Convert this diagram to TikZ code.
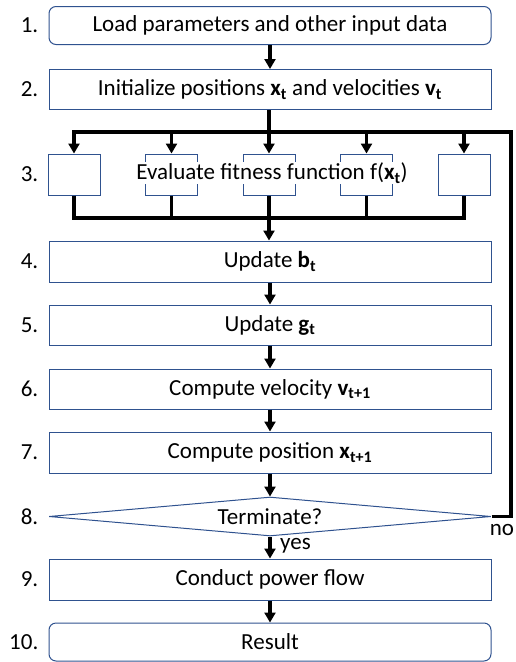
\documentclass[tikz,border=0pt]{standalone}
\usepackage{fontspec}
\setmainfont{Carlito}
\usetikzlibrary{arrows.meta,shapes.geometric}
\definecolor{boxline}{RGB}{47,82,143}
\newcommand{\vecsub}[2]{\textbf{#1}\textsubscript{\textbf{#2}}}
\begin{document}
\begin{tikzpicture}[x=1pt,y=-1pt,
  font=\fontsize{23}{27}\selectfont,
  stepbox/.style={draw=boxline,line width=1pt,minimum width=442pt,minimum height=40pt,inner sep=0pt},
  roundbox/.style={stepbox,rounded corners=7pt},
  smallbox/.style={draw=boxline,line width=1pt,minimum width=52pt,minimum height=41pt,inner sep=0pt},
  decision/.style={shape=diamond,draw=boxline,line width=1pt,aspect=11,minimum width=442pt,minimum height=39pt,inner sep=0pt},
  num/.style={anchor=east,inner sep=0pt},
  wire/.style={line width=3.2pt,line join=miter},
  flow/.style={wire,-{Triangle[width=11pt,length=10pt]}}]
\useasboundingbox (0,0) rectangle (516,662);

% main column of steps
\node[roundbox,minimum height=38pt] (b1) at (270,25.5) {Load parameters and other input data};
\node[stepbox] (b2) at (270,89.5) {Initialize positions \vecsub{x}{t} and velocities \vecsub{v}{t}};
\node[smallbox] (s1) at (74,174.5) {};
\node[smallbox] (s2) at (171.5,174.5) {};
\node[smallbox] (s3) at (269,174.5) {};
\node[smallbox] (s4) at (366.5,174.5) {};
\node[smallbox] (s5) at (464,174.5) {};
\node[fill=white,inner xsep=6pt,inner ysep=1pt] (eval) at (272,173) {Evaluate fitness function f(\vecsub{x}{t})};
\node[stepbox,minimum height=41pt] (b4) at (270,261.5) {Update \vecsub{b}{t}};
\node[stepbox] (b5) at (270,325) {Update \vecsub{g}{t}};
\node[stepbox] (b6) at (270,389) {Compute velocity \vecsub{v}{t+1}};
\node[stepbox,minimum height=41pt] (b7) at (270,452.5) {Compute position \vecsub{x}{t+1}};
\node[decision] (d) at (270,516.5) {Terminate?};
\node[stepbox,minimum height=41pt] (b9) at (270,579.5) {Conduct power flow};
\node[roundbox,minimum height=38pt] (b10) at (270,642) {Result};

% step numbers
\node[num] (n1) at (38.5,25.5) {1.};
\node[num] (n2) at (38.5,89.5) {2.};
\node[num] (n3) at (38.5,174.5) {3.};
\node[num] (n4) at (38.5,261.5) {4.};
\node[num] (n5) at (38.5,325) {5.};
\node[num] (n6) at (38.5,389) {6.};
\node[num] (n7) at (38.5,452.5) {7.};
\node[num] (n8) at (38.5,516.5) {8.};
\node[num] (n9) at (38.5,579.5) {9.};
\node[num] (n10) at (38.5,642) {10.};

% branch points
\coordinate (topbar) at (269,132);
\coordinate (botbar) at (269,218);
\coordinate (loop) at (511,0);

% connectors
\draw[flow] (b1) -- (b2);
\draw[flow] (b2.south -| s3) -- (s3.north);
\draw[flow] (d.east) -- (d.east -| loop) -- (loop |- topbar) -- (s1.north |- topbar) -- (s1.north);
\draw[flow] (s2.north |- topbar) -- (s2.north);
\draw[flow] (s4.north |- topbar) -- (s4.north);
\draw[flow] (s5.north |- topbar) -- (s5.north);
\draw[wire] (s1.south) -- (s1.south |- botbar) -- (s5.south |- botbar) -- (s5.south);
\draw[wire] (s2.south) -- (s2.south |- botbar);
\draw[wire] (s4.south) -- (s4.south |- botbar);
\draw[flow] (s3.south) -- (b4.north -| s3);
\draw[flow] (b4) -- (b5);
\draw[flow] (b5) -- (b6);
\draw[flow] (b6) -- (b7);
\draw[flow] (b7.south) -- (d.north);
\draw[flow] (d.south) -- (b9.north);
\draw[flow] (b9) -- (b10);

% branch labels
\node[anchor=west,inner sep=0pt] (yes) at (280,546) {yes};
\node[inner sep=0pt] (no) at (502,530) {no};
\end{tikzpicture}
\end{document}
